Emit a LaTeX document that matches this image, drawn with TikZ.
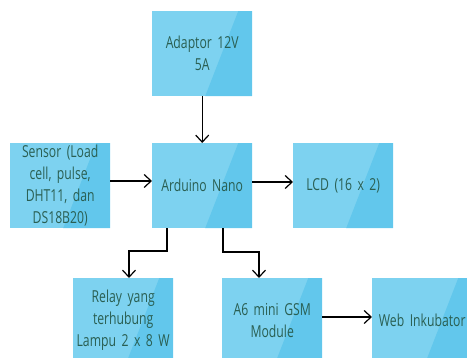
\documentclass[tikz,border=0pt]{standalone}
\usepackage{fontspec}
\setmainfont[FakeStretch=0.74]{Open Sans}
\usetikzlibrary{arrows.meta,calc}

\begin{document}
\begin{tikzpicture}[x=1pt,y=-1pt,
  blok/.style={anchor=north west,fill=boxlight,minimum width=100,minimum height=85,
    text width=98,align=center,text=boxtext,font=\fontsize{16.5}{22}\selectfont,inner sep=0,
    path picture={\fill[boxdark]
      ($(path picture bounding box.north west)!0.86!(path picture bounding box.north east)$)
      -- (path picture bounding box.north east) -- (path picture bounding box.south east)
      -- ($(path picture bounding box.south west)!0.53!(path picture bounding box.south east)$) -- cycle;}},
  panah/.style={-{Straight Barb[length=7,width=13]},line width=1.2,black}]
\definecolor{boxlight}{HTML}{7DD2F0}
\definecolor{boxdark}{HTML}{62C7EC}
\definecolor{boxtext}{HTML}{2A5F52}
\clip (0,0) rectangle (467,358);
\useasboundingbox (0,0) rectangle (467,358);
  \node [blok] (adaptor) at (152,11) {Adaptor 12V\\5A};
  \node [blok] (sensor) at (10,143) {Sensor (Load\\cell, pulse,\\DHT11, dan\\DS18B20)};
  \node [blok] (arduino) at (152,143) {Arduino Nano};
  \node [blok] (lcd) at (293,143) {LCD (16 x 2)};
  \node [blok] (relay) at (73,278) {Relay yang\\terhubung\\Lampu 2 x 8 W};
  \node [blok] (gsm) at (222,278) {A6 mini GSM\\Module};
  \node [blok] (web) at (372,278) {Web Inkubator};
  % sambungan
  \draw [panah] (adaptor) -- (arduino);
  \draw [panah] (sensor.east |- 0,181) -- (arduino.west |- 0,181);
  \draw [panah] (arduino.east |- 0,182) -- (lcd.west |- 0,182);
  \draw [panah] (arduino.south -| 167,0) -- (167,251) -- (129,251) -- (relay.north -| 129,0);
  \draw [panah] (arduino.south -| 223,0) -- (223,252) -- (259,252) -- (gsm.north -| 259,0);
  \draw [panah] (gsm.east |- 0,317) -- (web.west |- 0,317);
\end{tikzpicture}
\end{document}
